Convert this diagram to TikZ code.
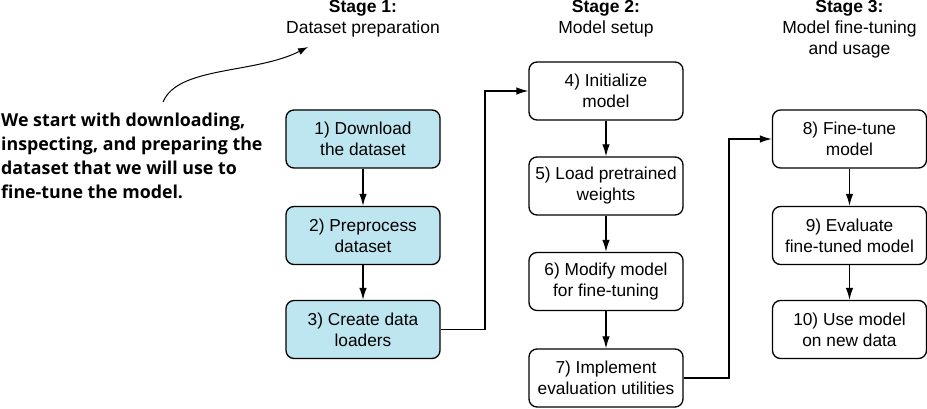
\documentclass[tikz,border=0pt]{standalone}
\usepackage{fontspec}
\setmainfont{Liberation Sans}
\newfontfamily\notefont{Open Sans}
\usetikzlibrary{arrows.meta}
\definecolor{boxcyan}{RGB}{190,230,240}
\begin{document}
\begin{tikzpicture}[x=1pt,y=-1pt,
  stepbox/.style={draw=black,line width=1.3pt,rounded corners=8pt,minimum width=154pt,minimum height=58pt,align=center,inner sep=0pt,font=\fontsize{17.3}{21}\selectfont},
  prep/.style={stepbox,fill=boxcyan},
  stagelbl/.style={align=center,font=\fontsize{17.5}{21}\selectfont},
  conn/.style={line width=1.2pt,-{Latex[length=12pt,width=7.5pt]}}]
\useasboundingbox[fill=white] (0,0) rectangle (927,409);
% stage titles
\node[stagelbl] (s1) at (363,19) {\textbf{Stage 1:}\\Dataset preparation};
\node[stagelbl] (s2) at (606,19) {\textbf{Stage 2:}\\Model setup};
\node[stagelbl] (s3) at (849.5,29) {\textbf{Stage 3:}\\Model fine-tuning\\and usage};
% note
\node[anchor=west,align=left,inner sep=0pt,font=\notefont\bfseries\fontsize{17.8}{24}\selectfont] (note) at (1,156)
 {We start with downloading,\\inspecting, and preparing the\\dataset that we will use to\\fine-tune the model.};
\coordinate (ns) at (163,102);
\coordinate (ne) at (308,47);
\draw[line width=1pt,-{Latex[length=10pt,width=7pt]}] (ns) .. controls (178,66) and (255,74) .. (ne);
% boxes
\node[prep] (b1) at (363,139) {1) Download\\the dataset};
\node[prep] (b2) at (363,235.5) {2) Preprocess\\dataset};
\node[prep] (b3) at (363,329.5) {3) Create data\\loaders};
\node[stepbox] (b4) at (606,91) {4) Initialize\\model};
\node[stepbox] (b5) at (606,186) {5) Load pretrained\\weights};
\node[stepbox] (b6) at (606,281.5) {6) Modify model\\for fine-tuning};
\node[stepbox] (b7) at (606,378) {7) Implement\\evaluation utilities};
\node[stepbox] (b8) at (849.5,139) {8) Fine-tune\\model};
\node[stepbox] (b9) at (849.5,235.5) {9) Evaluate\\fine-tuned model};
\node[stepbox] (b10) at (849.5,329.5) {10) Use model\\on new data};
% connectors
\draw[conn] (b1) -- (b2);
\draw[conn] (b2) -- (b3);
\draw[conn] (b4) -- (b5);
\draw[conn] (b5) -- (b6);
\draw[conn] (b6) -- (b7);
\draw[conn] (b8) -- (b9);
\draw[conn] (b9) -- (b10);
\draw[conn] (b3.east) -- (485,329.5) |- (b4.west);
\draw[conn] (b7.east) -- (729,378) |- (b8.west);
\end{tikzpicture}
\end{document}
